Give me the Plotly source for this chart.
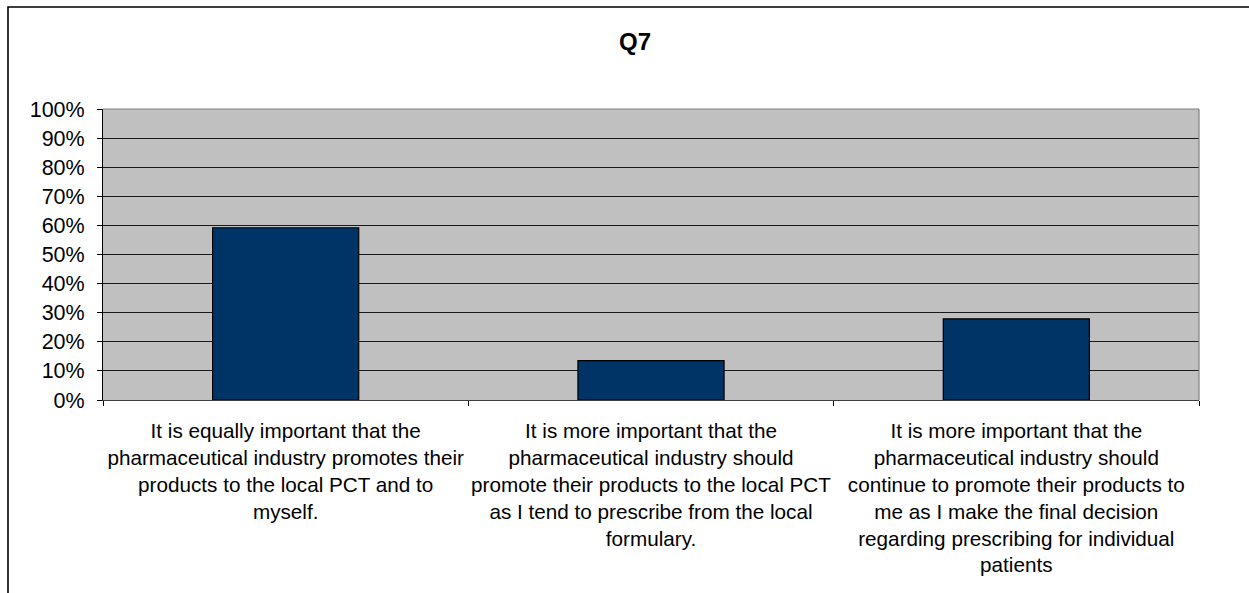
import plotly.graph_objects as go

categories = [
    "It is equally important that the<br>pharmaceutical industry promotes their<br>products to the local PCT and to<br>myself.",
    "It is more important that the<br>pharmaceutical industry should<br>promote their products to the local PCT<br>as I tend to prescribe from the local<br>formulary.",
    "It is more important that the<br>pharmaceutical industry should<br>continue to promote their products to<br>me as I make the final decision<br>regarding prescribing for individual<br>patients",
]
values = [0.592, 0.135, 0.279]
tick_vals = [i / 10 for i in range(11)]
tick_text = [f"{i * 10}%" for i in range(11)]

W, H = 1249, 593
L, R, T, B = 103, 1199, 109, 400  # plot area in px

FONT = "Liberation Sans, Arial, sans-serif"

fig = go.Figure()
fig.add_trace(go.Bar(
    x=categories, y=values, width=0.4,
    marker=dict(color="#003366", line=dict(color="#000000", width=1.2)),
))

def px_x(p):
    return (p - L) / (R - L)

def px_y(p):
    return (B - p) / (B - T)

shapes = [
    # outer chart frame (extends beyond visible area on right/bottom)
    dict(type="rect", xref="paper", yref="paper", x0=px_x(8), x1=px_x(1400),
         y0=px_y(800), y1=px_y(7), line=dict(color="#000000", width=1.6), layer="below"),
    # plot area top/right edges gray
    dict(type="line", xref="paper", yref="paper", x0=0, x1=1, y0=1, y1=1,
         line=dict(color="#808080", width=1.2), layer="above"),
    dict(type="line", xref="paper", yref="paper", x0=1, x1=1, y0=0, y1=1,
         line=dict(color="#808080", width=1.2), layer="above"),
]

fig.update_layout(
    width=W, height=H,
    margin=dict(l=L, r=W - R, t=T, b=H - B, pad=0),
    paper_bgcolor="#FFFFFF", plot_bgcolor="#C0C0C0",
    font=dict(family=FONT, size=20, color="#000000"),
    title=dict(text="<b>Q7</b>", x=635 / W, xanchor="center", y=1 - 42 / H, yanchor="middle",
               font=dict(family=FONT, size=24, color="#000000")),
    showlegend=False,
    bargap=0.6,
    shapes=shapes,
)
fig.update_yaxes(
    range=[0, 1], tickvals=tick_vals, ticktext=tick_text,
    showgrid=True, gridcolor="#1a1a1a", gridwidth=1,
    showline=True, linecolor="#000000", linewidth=1,
    ticks="outside", ticklen=5, tickcolor="#000000", tickwidth=1,
    ticklabelstandoff=8,
    zeroline=False,
    tickfont=dict(family=FONT, size=21.5, color="#000000"),
)
fig.update_xaxes(
    showgrid=False, showline=True, linecolor="#404040", linewidth=1.2,
    ticks="outside", ticklen=5, tickcolor="#000000", tickwidth=1,
    tickson="boundaries", ticklabelstandoff=12,
    tickfont=dict(family=FONT, size=20.7, color="#000000"),
    tickangle=0,
)

fig.write_html(
    "out.html",
    config={"displayModeBar": False},
    post_script="document.body.style.margin='0';document.body.style.padding='0';document.body.style.overflow='hidden';",
)
